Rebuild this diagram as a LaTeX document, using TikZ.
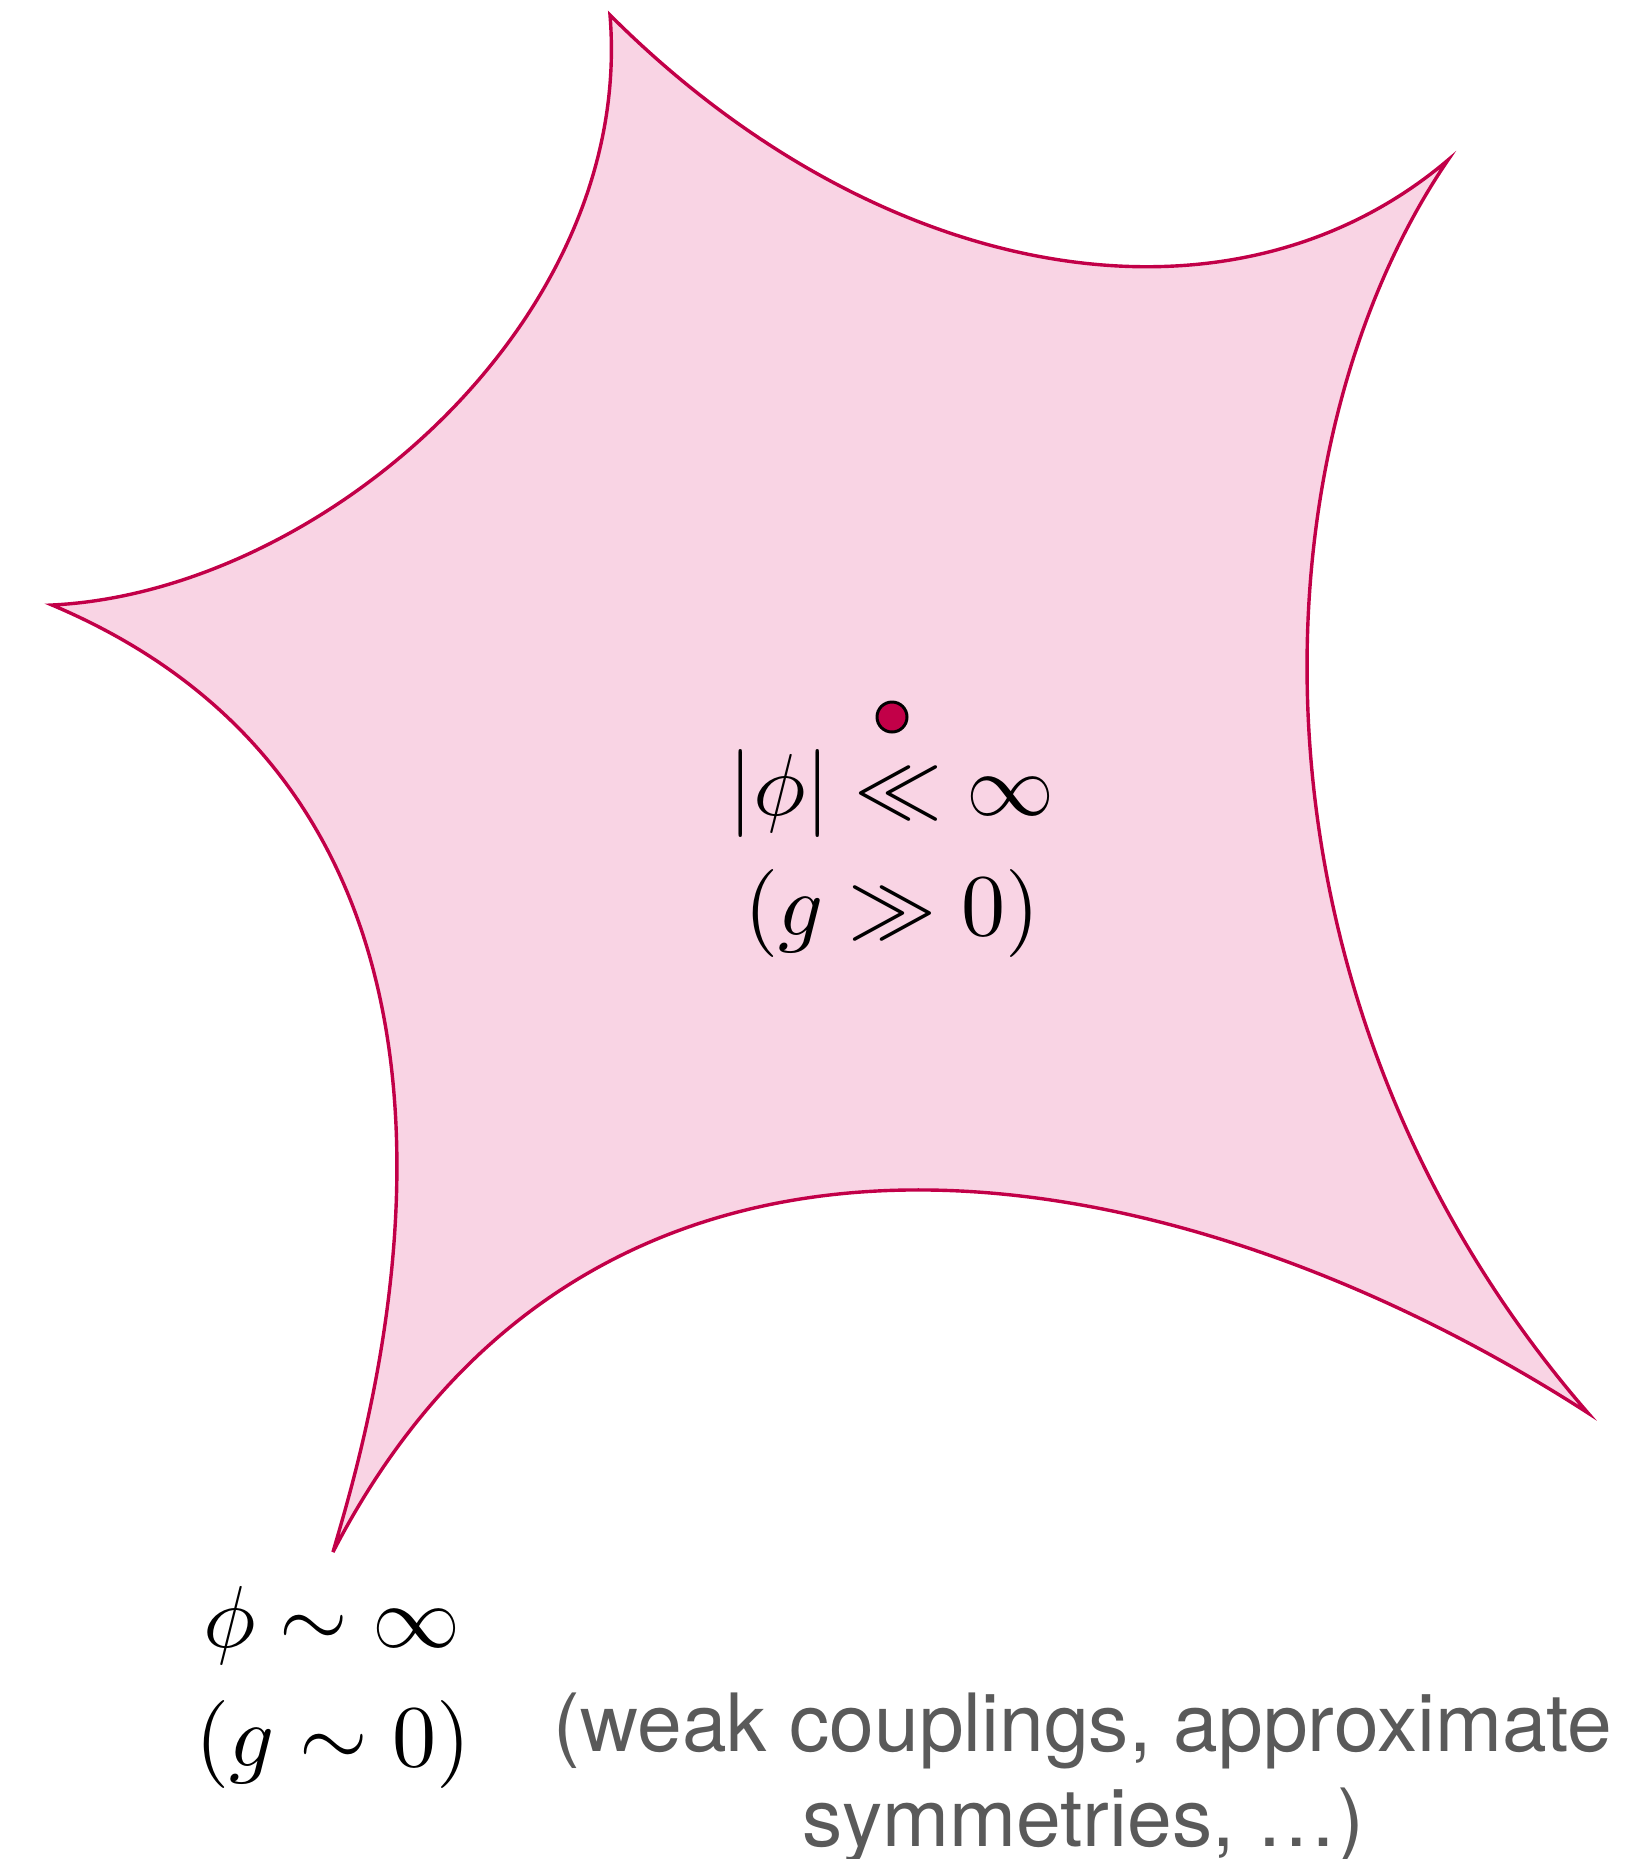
\documentclass[tikz,border=0pt]{standalone}
\usepackage{fontspec}
\newfontfamily\grayfont{TeX Gyre Heros}
\definecolor{crim}{RGB}{194,0,72}
\definecolor{pinkfill}{RGB}{249,212,228}
\definecolor{txtgray}{RGB}{90,90,90}
\tikzset{
  region/.style={draw=crim, fill=pinkfill, line width=1.7pt, line join=miter},
  mathlbl/.style={anchor=base, inner sep=0pt, scale=4.4, font=\fontsize{10}{12}\selectfont},
  graylbl/.style={anchor=base, inner sep=0pt, text=txtgray, font=\grayfont\fontsize{40.2}{48}\selectfont},
  pointdot/.style={circle, draw=black, fill=crim, line width=1.5pt, minimum size=15pt, inner sep=0pt}
}
\begin{document}
\begin{tikzpicture}[x=0.5pt, y=-0.5pt]
\useasboundingbox (0,0) rectangle (1650,1859);
\coordinate (T) at (610,15);
\coordinate (TR) at (1448,160);
\coordinate (BR) at (1588,1413);
\coordinate (BL) at (333,1552);
\coordinate (L) at (52,605);
\path[region] (T) .. controls (880,285) and (1230,345) .. (TR)
  .. controls (1250,450) and (1230,1000) .. (BR)
  .. controls (1180,1150) and (600,1035) .. (BL)
  .. controls (363,1447) and (564,821) .. (L)
  .. controls (320,592) and (635,322) .. (T) -- cycle;
\node[pointdot] (dot) at (892,717) {};
\node[mathlbl] (m1) at (892,815) {$|\phi| \ll \infty$};
\node[mathlbl] (m2) at (892,935) {$(g \gg 0)$};
\node[mathlbl] (b1) at (332,1647) {$\phi \sim \infty$};
\node[mathlbl] (b2) at (333,1766) {$(g \sim 0)$};
\node[graylbl] (w1) at (1083,1751) {(weak couplings, approximate};
\node[graylbl] (w2) at (1083,1846) {symmetries, …)};
\end{tikzpicture}
\end{document}
